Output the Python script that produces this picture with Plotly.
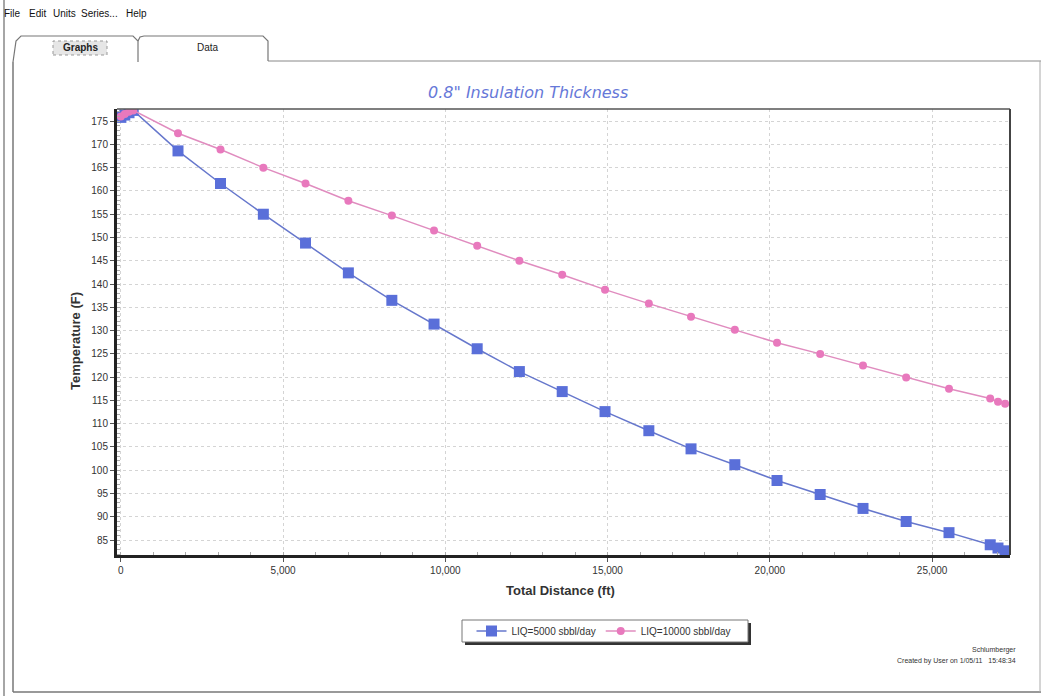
import plotly.graph_objects as go

# ---------------- data ----------------
distance_ft = [0, 120, 250, 380, 1760, 3070, 4390, 5690, 7010, 8350, 9650, 10980,
               12280, 13600, 14920, 16270, 17570, 18920, 20220, 21550, 22870,
               24200, 25520, 26790, 27030, 27250]
temp_liq5000 = [175.8, 176.3, 176.8, 177.3, 168.6, 161.6, 155.0, 148.8, 142.4,
                136.5, 131.4, 126.1, 121.2, 116.9, 112.6, 108.5, 104.6, 101.2,
                97.8, 94.8, 91.8, 89.0, 86.6, 84.0, 83.3, 82.7]
temp_liq10000 = [176.0, 176.5, 177.0, 177.3, 172.4, 168.9, 165.0, 161.6, 157.9,
                 154.7, 151.5, 148.2, 145.0, 142.0, 138.8, 135.8, 133.0, 130.2,
                 127.4, 125.0, 122.5, 119.9, 117.5, 115.4, 114.7, 114.3]
series_names = ["LIQ=5000 sbbl/day", "LIQ=10000 sbbl/day"]
x_ticks = [0, 5000, 10000, 15000, 20000, 25000]
x_tick_labels = ["0", "5,000", "10,000", "15,000", "20,000", "25,000"]
y_ticks = list(range(85, 176, 5))

# ---------------- layout helpers ----------------
W, H = 1041, 696
L, R, T, B = 117, 1010, 109, 555


def px(x):
    return (x - L) / (R - L)


def py(y):
    return (B - y) / (B - T)


NARROW = "Liberation Sans Narrow, Arial Narrow, Liberation Sans, Arial, sans-serif"
SANS = "Liberation Sans, Arial, sans-serif"

fig = go.Figure()
fig.add_trace(go.Scatter(
    x=distance_ft, y=temp_liq5000, name=series_names[0], mode="lines+markers",
    line=dict(color="#6677cc", width=1.5),
    marker=dict(symbol="square", size=11, color="#5a6fd9"),
))
fig.add_trace(go.Scatter(
    x=distance_ft, y=temp_liq10000, name=series_names[1], mode="lines+markers",
    line=dict(color="#e08cbf", width=1.5),
    marker=dict(symbol="circle", size=8, color="#e879bd"),
))

shapes = []
annotations = []


def line(x0, y0, x1, y1, color="#777", width=1):
    shapes.append(dict(type="line", xref="paper", yref="paper",
                       x0=px(x0), y0=py(y0), x1=px(x1), y1=py(y1),
                       line=dict(color=color, width=width), layer="above"))


def path(points, color="#777", width=1):
    d = "M " + " L ".join(f"{px(a):.5f},{py(b):.5f}" for a, b in points)
    shapes.append(dict(type="path", xref="paper", yref="paper", path=d,
                       line=dict(color=color, width=width), layer="above"))


def rect(x0, y0, x1, y1, fill, border=None, bw=0, dash=None):
    ln = dict(width=bw, color=border or fill)
    if dash:
        ln["dash"] = dash
    shapes.append(dict(type="rect", xref="paper", yref="paper",
                       x0=px(x0), x1=px(x1), y0=py(y1), y1=py(y0),
                       line=ln, fillcolor=fill, layer="above"))


def text(x, y, s, size=10, color="#222", anchor="left", font=SANS, **kw):
    annotations.append(dict(xref="paper", yref="paper", x=px(x), y=py(y), text=s,
                            showarrow=False, xanchor=anchor, yanchor="middle",
                            font=dict(size=size, color=color, family=font), **kw))


# window frame / tab panel
line(4, 0, 4, 696, "#888", 1.5)
line(13, 62, 13, 692, "#777", 1.5)
line(13, 692, 1041, 692, "#777", 1.5)
line(268, 61, 1041, 61, "#888", 1)
line(1040, 61, 1040, 692, "#aaa", 1)
path([(13, 62), (16, 41), (21, 36), (133, 36), (138, 41), (138, 62)], "#777", 1.2)
path([(138, 41), (140, 37), (144, 36), (263, 36), (268, 41), (268, 61)], "#777", 1.2)
rect(53, 41, 107, 55, "#e6e6e6", "#999", 1, "dot")

# menu bar
for lbl, xx in [("File", 2), ("Edit", 27), ("Units", 51), ("Series...", 79), ("Help", 124)]:
    text(xx, 14, lbl, size=10, color="#111", font=NARROW)
text(80, 48, "<b>Graphs</b>", size=10, color="#222", anchor="center", font=NARROW)
text(208, 47, "Data", size=10, color="#222", anchor="center", font=NARROW)

# plot frame: thin top/right
line(L, T, R, T, "#555", 1.5)
line(R, T, R, B, "#444", 2)

# title
text(528, 92, "<i>0.8\" Insulation Thickness</i>", size=16, color="#6678d8", anchor="center",
     font="DejaVu Sans, Verdana, sans-serif")

# axis titles
text(560, 590, "<b>Total Distance (ft)</b>", size=13, color="#333", anchor="center", font=NARROW)
text(75, 341, "<b>Temperature (F)</b>", size=13, color="#333", anchor="center", font=NARROW,
     textangle=-90)

# legend box with shadow (legend itself is transparent on top)
rect(465, 623, 751, 645, "#333")
rect(462, 620, 748, 642, "white", "#777", 1)

# footer
text(1018, 650, "Schlumberger", size=7, color="#333", anchor="right", font=NARROW)
text(1018, 661, "Created by User on 1/05/11   15:48:34", size=7, color="#333", anchor="right",
     font=NARROW)

fig.update_layout(
    width=W, height=H,
    margin=dict(l=L, r=W - R, t=T, b=H - B),
    paper_bgcolor="white", plot_bgcolor="white",
    showlegend=True,
    legend=dict(orientation="h", x=px(604), y=py(631), xanchor="center", yanchor="middle",
                bgcolor="rgba(0,0,0,0)", borderwidth=0,
                font=dict(size=10, color="#333", family=NARROW),
                itemwidth=30, tracegroupgap=0),
    shapes=shapes, annotations=annotations,
    xaxis=dict(range=[-120, 27400], tickvals=x_ticks, ticktext=x_tick_labels,
               showgrid=True, gridcolor="#d4d4d4", griddash="dot", gridwidth=1,
               showline=True, linecolor="#222", linewidth=3, zeroline=False,
               ticks="outside", ticklen=4, tickcolor="#555",
               minor=dict(dtick=1000, ticks="inside", ticklen=3, tickcolor="#aaa", showgrid=False),
               tickfont=dict(size=10, color="#333", family=NARROW)),
    yaxis=dict(range=[81.8, 177.6], tickvals=y_ticks,
               showgrid=True, gridcolor="#d4d4d4", griddash="dot", gridwidth=1,
               showline=True, linecolor="#222", linewidth=3, zeroline=False,
               ticks="outside", ticklen=4, tickcolor="#555",
               minor=dict(dtick=1, ticks="inside", ticklen=3, tickcolor="#aaa", showgrid=False),
               tickfont=dict(size=10, color="#333", family=NARROW)),
)

fig.write_html("out.html", post_script="document.body.style.margin='0';",
               config={"displayModeBar": False})
